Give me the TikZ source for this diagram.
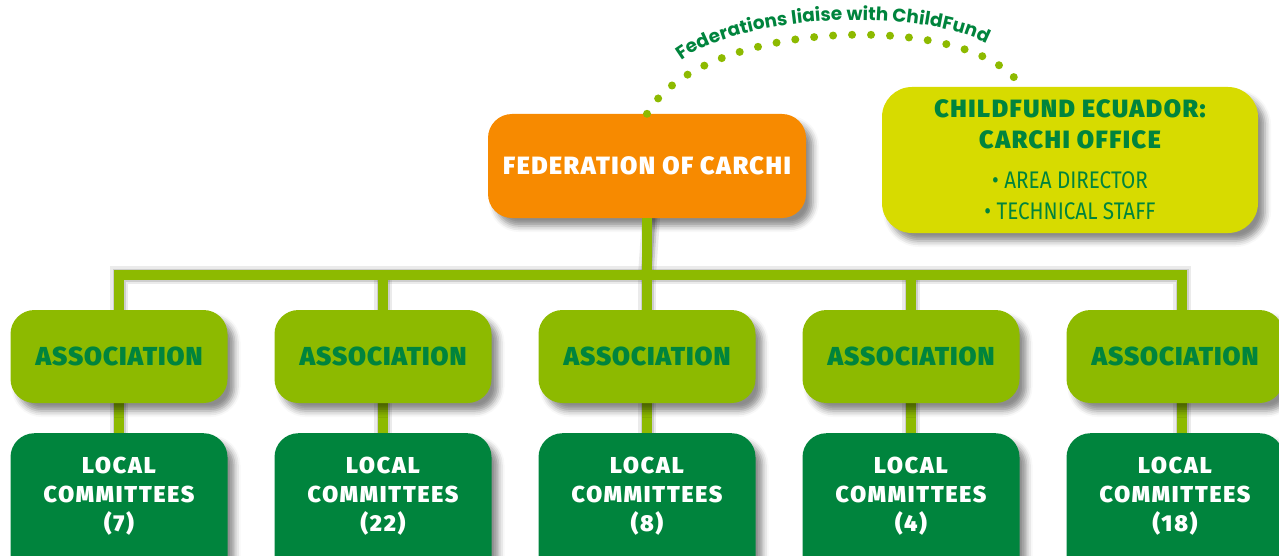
\documentclass[tikz,border=0pt]{standalone}
\usepackage{fontspec}
\setmainfont{Fira Sans}
\newfontfamily\heavyfed{Fira Sans Black}[LetterSpace=6]
\newfontfamily\heavyas{Fira Sans Black}[LetterSpace=3.5]
\newfontfamily\heavyls{Fira Sans Black}[LetterSpace=8]
\newfontfamily\condfont{Fira Sans}[FakeStretch=0.86]
\newfontfamily\arcfont{Poppins}
\usetikzlibrary{shadows.blur,decorations.text}
\definecolor{orng}{HTML}{F78A00}
\definecolor{lgreen}{HTML}{8DBA00}
\definecolor{dgreen}{HTML}{00843D}
\definecolor{ylgreen}{HTML}{D7DB00}
\tikzset{
  box/.style={rectangle, rounded corners=24pt, inner sep=0pt,
    blur shadow={shadow xshift=7pt, shadow yshift=-8pt, shadow blur radius=6pt, shadow opacity=45}},
  assoc/.style={box, fill=lgreen, minimum width=217, minimum height=93,
    text=dgreen, font=\heavyas\fontsize{26}{30}\selectfont},
  localbox/.style={box, fill=dgreen, minimum width=217, minimum height=180, anchor=north},
  loctext/.style={text=white, align=center, inner sep=0pt, font=\heavyls\fontsize{23}{29}\selectfont},
  conn/.style={draw=lgreen, line width=10pt, line join=miter},
  connsh/.style={draw=black, line join=miter, shift={(7,9)}},
  dots/.style={draw=lgreen, line width=8pt, line cap=round, dash pattern=on 0pt off 19pt}
}
\begin{document}
\begin{tikzpicture}[x=1pt, y=-1pt]
\useasboundingbox (0,0) rectangle (1279,556);
\clip (0,0) rectangle (1279,556);

\coordinate (bar) at (647,275);
\path (119,356.5) coordinate (a1c) (383,356.5) coordinate (a2c) (647,356.5) coordinate (a3c)
      (911,356.5) coordinate (a4c) (1175,356.5) coordinate (a5c) (1182,356.5) coordinate (a5l);

% connector shadows
\foreach \w/\o in {18/0.08, 13/0.12, 9/0.18}{
  \draw[connsh, line width=\w pt, opacity=\o] (647,166) -- (bar);
  \draw[connsh, line width=\w pt, opacity=\o] (a1c) -- (a1c |- bar) -- (a5l |- bar) -- (a5l);
  \foreach \c in {a2c,a3c,a4c}{ \draw[connsh, line width=\w pt, opacity=\o] (\c) -- (\c |- bar); }
  \foreach \c in {a1c,a2c,a3c,a4c,a5l}{ \draw[connsh, line width=\w pt, opacity=\o] (\c) -- ++(0,100); }
}

\node[box, fill=orng, minimum width=318, minimum height=104, text=white,
      font=\heavyfed\fontsize{25}{30}\selectfont] (fed) at (647,166) {FEDERATION OF CARCHI};

\node[box, fill=ylgreen, minimum width=376, minimum height=146, rounded corners=30pt,
      text=dgreen, align=center, font=\fontsize{24}{31}\selectfont] (cf) at (1070,160)
  {{\heavyfed\fontsize{25}{31}\selectfont CHILDFUND ECUADOR:}\\{\heavyfed\fontsize{25}{31}\selectfont CARCHI OFFICE}\\[9pt]{\condfont • AREA DIRECTOR}\\{\condfont • TECHNICAL STAFF}};

% connectors
\draw[conn] (fed.south) -- (bar);
\draw[conn] (a1c) -- (a1c |- bar) -- (a5l |- bar) -- (a5l);
\foreach \c in {a2c,a3c,a4c}{ \draw[conn] (\c) -- (\c |- bar); }
\foreach \c in {a1c,a2c,a3c,a4c,a5l}{ \draw[conn] (\c) -- ++(0,100); }

\node[assoc] (a1) at (a1c) {ASSOCIATION};
\node[assoc] (a2) at (a2c) {ASSOCIATION};
\node[assoc] (a3) at (a3c) {ASSOCIATION};
\node[assoc] (a4) at (a4c) {ASSOCIATION};
\node[assoc] (a5) at (a5c) {ASSOCIATION};

\node[localbox] (l1) at (119,433) {};
\node[localbox] (l2) at (383,433) {};
\node[localbox] (l3) at (647,433) {};
\node[localbox] (l4) at (911,433) {};
\node[localbox] (l5) at (1175,433) {};
\node[loctext] (l1t) at (119,496) {LOCAL\\COMMITTEES\\(7)};
\node[loctext] (l2t) at (383,496) {LOCAL\\COMMITTEES\\(22)};
\node[loctext] (l3t) at (647,496) {LOCAL\\COMMITTEES\\(8)};
\node[loctext] (l4t) at (911,496) {LOCAL\\COMMITTEES\\(4)};
\node[loctext] (l5t) at (1175,496) {LOCAL\\COMMITTEES\\(18)};

% dotted liaison arc
\draw[dots] (fed.north) .. controls (700,20) and (960,10) .. ([xshift=-52pt,yshift=5pt]cf.north);
\path[decorate, decoration={text along path, text align=center, text color=dgreen,
   text={|\arcfont\bfseries\fontsize{18.5}{18.5}\selectfont|Federations liaise with ChildFund}}]
   (666,76) .. controls (716,8) and (952,3) .. (1004,56);
\end{tikzpicture}
\end{document}
